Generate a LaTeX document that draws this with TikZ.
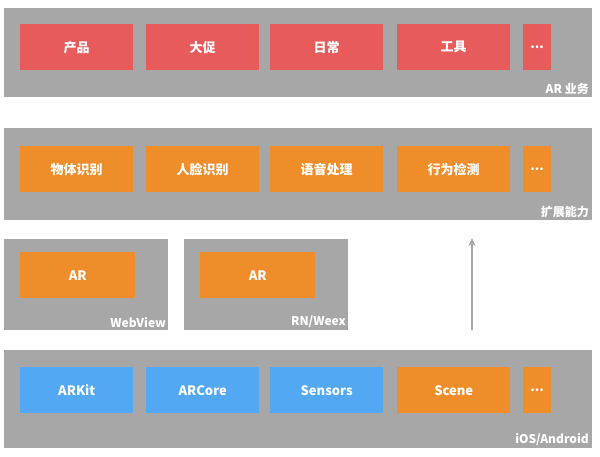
\documentclass[tikz,border=0pt]{standalone}
\usepackage{fontspec}
\setmainfont{Noto Sans CJK SC}
\usetikzlibrary{arrows.meta}
\definecolor{layergray}{HTML}{A7A7A7}
\definecolor{bizred}{HTML}{E85B5B}
\definecolor{extorange}{HTML}{F08D2B}
\definecolor{sysblue}{HTML}{52A8F2}
\begin{document}
\begin{tikzpicture}[x=1pt,y=-1pt]
\def\bx#1#2#3#4#5{\node [box,fill=#1,minimum width=#4,anchor=north west] (#2) at (#3,#5) {#2};}
\tikzstyle{layer}=[fill=layergray,draw=none];
\tikzstyle{box}=[draw=none,text=white,font=\bfseries\fontsize{13}{15}\selectfont,minimum height=46pt,inner sep=0pt];
\tikzstyle{tag}=[text=white,font=\bfseries\fontsize{12}{14}\selectfont,anchor=south east,inner sep=1pt];
\useasboundingbox (0,0) rectangle (600,456);

% AR biz
\fill [layer] (4,8) rectangle (592,97);
\bx{bizred}{产品}{20}{113pt}{24}
\bx{bizred}{大促}{146}{113pt}{24}
\bx{bizred}{日常}{270}{113pt}{24}
\bx{bizred}{工具}{397}{113pt}{24}
\node [box,fill=bizred,minimum width=28pt,anchor=north west] (d1) at (523,24) {...};
\node [tag] (t1) at (590,96) {AR 业务};

%% ext
\fill [layer] (4,128) rectangle (592,220);
\bx{extorange}{物体识别}{20}{113pt}{146}
\bx{extorange}{人脸识别}{146}{113pt}{146}
\bx{extorange}{语音处理}{270}{113pt}{146}
\bx{extorange}{行为检测}{397}{113pt}{146}
\node [box,fill=extorange,minimum width=28pt,anchor=north west] (d2) at (523,146) {...};
\node [tag] (t2) at (590,219) {扩展能力};

%% containers
\fill [layer] (4,239) rectangle (168,330);
\node [box,fill=extorange,minimum width=115pt,anchor=north west] (ar1) at (20,252) {AR};
\node [tag] (t3) at (167,329) {WebView};
\fill [layer] (184,239) rectangle (348,330);
\node [box,fill=extorange,minimum width=115pt,anchor=north west] (ar2) at (200,252) {AR};
\node [tag] (t4) at (347,329) {RN/Weex};
\coordinate (a0) at (472,330);
\coordinate (a1) at (472,238);
\draw [layergray,line width=1.5pt,-{Stealth[length=8pt,width=7pt]}] (a0) -- (a1);

%% system
\fill [layer] (4,350) rectangle (592,448);
\bx{sysblue}{ARKit}{20}{113pt}{367}
\bx{sysblue}{ARCore}{146}{113pt}{367}
\bx{sysblue}{Sensors}{270}{113pt}{367}
\bx{extorange}{Scene}{397}{113pt}{367}
\node [box,fill=extorange,minimum width=28pt,anchor=north west] (d3) at (523,367) {...};
\node [tag] (t5) at (590,447) {iOS/Android};
\end{tikzpicture}
\end{document}
